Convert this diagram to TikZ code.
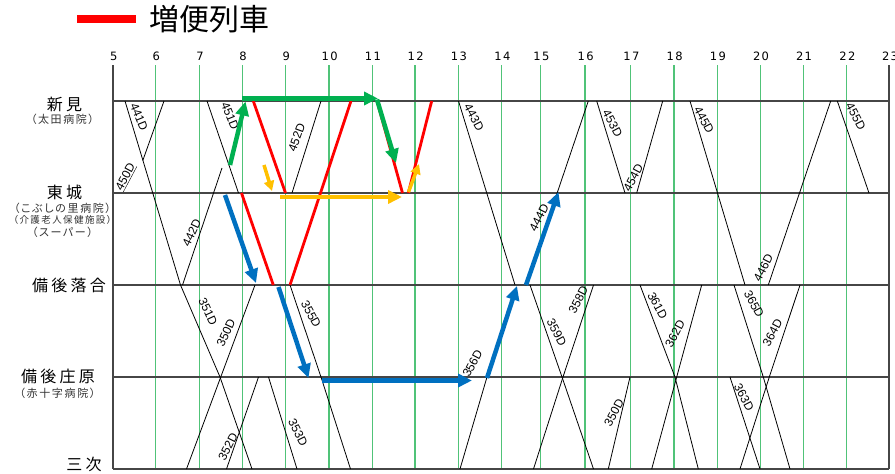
\documentclass[tikz,border=0pt]{standalone}
\usepackage{fontspec}
\usetikzlibrary{arrows.meta}
\newfontfamily\jpfont{Noto Sans CJK JP}
\newfontfamily\jpwide{Noto Sans CJK JP}[LetterSpace=20]
\newfontfamily\jpsub{Noto Sans CJK JP}[LetterSpace=15,RawFeature=+palt]
\newfontfamily\hourfont{DejaVu Sans}[LetterSpace=12]
\newfontfamily\numfont{Liberation Sans}
\definecolor{gridgreen}{RGB}{80,195,120}
\definecolor{arrgreen}{RGB}{0,176,80}
\definecolor{arrblue}{RGB}{0,112,192}
\definecolor{arryellow}{RGB}{255,192,0}
\definecolor{rowgray}{RGB}{70,70,70}
\tikzset{
  gridline/.style={draw=gridgreen, line width=1.3pt},
  frameline/.style={draw=rowgray, line width=1.3pt},
  rowline/.style={draw=rowgray, line width=1.2pt},
  train/.style={draw=black, line width=0.8pt},
  extratrain/.style={draw=red, line width=2.8pt},
  bigarrow/.style={line width=4.5pt, -{Triangle[length=14pt,width=13pt]}},
  smallarrow/.style={line width=3.5pt, -{Triangle[length=10pt,width=10pt]}},
  tlabel/.style={font=\numfont\fontsize{12}{12}\selectfont, inner sep=0pt},
  hourlabel/.style={font=\hourfont\fontsize{11.5}{11.5}\selectfont, inner sep=0pt},
  stn/.style={font=\jpwide\fontsize{16}{16}\selectfont, inner sep=0pt},
  stnsub/.style={font=\jpsub\fontsize{11}{11}\selectfont, inner sep=0pt, text=black!80},
}
\begin{document}
\begin{tikzpicture}[x=1pt,y=-1pt]
\useasboundingbox (0,0) rectangle (895,474);
\fill[white] (0,0) rectangle (895,474);

% legend
\coordinate (legA) at (77,19);
\coordinate (legB) at (136,19);
\draw[red, line width=8pt] (legA) -- (legB);
\node[font=\jpfont\fontsize{30}{30}\selectfont, inner sep=0pt] (legtext) at (209,19) {増便列車};

% hour grid
\foreach \h/\x in {6/155.7,7/199.3,8/242.3,9/285.5,10/329,11/372.3,12/415,13/458.3,14/501.7,15/540.7,16/585,17/630.7,18/674,19/717.3,20/760.3,21/803.3,22/846.7}{
  \draw[gridline] (\x,65) -- (\x,469);
}
\foreach \h/\x in {5/113,6/155.7,7/199.3,8/242.3,9/285.5,10/329,11/372.3,12/415,13/458.3,14/501.7,15/540.7,16/585,17/630.7,18/674,19/717.3,20/760.3,21/803.3,22/846.7,23/889.3}{
  \node[hourlabel] (h\h) at (\x+0.7,56) {\h};
}
\draw[frameline] (113,65) -- (113,469);
\draw[frameline, line width=2pt] (889.3,65) -- (889.3,469);

% station rows
\foreach \y in {101,193,285,377,469}{
  \draw[rowline] (113,\y) -- (889.3,\y);
}

% station labels
\node[stn] (niimi) at (64.5,104) {新見};
\node[stnsub] (niimi2) at (62.5,119.5) {（太田病院）};
\node[stn] (tojo) at (64.5,192) {東城};
\node[stnsub] (tojo2) at (62.5,208) {（こぶしの里病院）};
\node[stnsub, font=\jpsub\fontsize{9.5}{9.5}\selectfont] (tojo3) at (62.5,220) {（介護老人保健施設）};
\node[stnsub] (tojo4) at (62.5,232) {（スーパー）};
\node[stn] (ochiai) at (69,285) {備後落合};
\node[stn] (shobara) at (58,376) {備後庄原};
\node[stnsub] (shobara2) at (57.5,393) {（赤十字病院）};
\node[stn] (miyoshi) at (84,464) {三次};

% black trains
\draw[train] (125,101) -- (180.5,285) -- (220,377) -- (252,469); % 441D / 351D
\draw[train] (164,101) -- (142.8,160.5); % 450D
\draw[train] (182.5,285) -- (222,168); % 442D
\draw[train] (207,101) -- (238.5,193); % 451D
\draw[train] (292,193) -- (321,101); % 452D
\draw[train] (186.5,469) -- (255,285); % 350D
\draw[train] (226.5,469) -- (258.5,377); % 352D
\draw[train] (268.5,377) -- (297,469); % 353D
\draw[train] (290,285) -- (321,377) -- (350.5,469); % 355D
\draw[train] (458.5,101) -- (515,285); % 443D
\draw[train] (526,285) -- (588.3,101); % 444D
\draw[train] (460,469) -- (486.7,378); % 356D
\draw[train] (530,285) -- (562,377) -- (593.5,469); % 359D
\draw[train] (533.5,469) -- (563,377) -- (593.5,285); % 358D
\draw[train] (596.7,101) -- (625,193); % 453D
\draw[train] (636.7,193) -- (662.7,101); % 454D
\draw[train] (690,101) -- (745,285); % 445D
\draw[train] (768.3,285) -- (830.7,101); % 446D
\draw[train] (837.3,101) -- (869,193); % 455D
\draw[train] (608.3,469) -- (630,377); % 350D
\draw[train] (640,285) -- (675,377) -- (698.3,469); % 361D
\draw[train] (651.7,469) -- (676.7,377) -- (701.7,285); % 362D
\draw[train] (734,285) -- (763.3,377) -- (790,469); % 365D
\draw[train] (730,377) -- (760,469); % 363D
\draw[train] (740,469) -- (769.3,377) -- (800,285); % 364D

% train labels
\node[tlabel, rotate=-68] (l441) at (139,117) {441D};
\node[tlabel, rotate=62] (l450) at (126,177) {\underline{450D}};
\node[tlabel, rotate=-68] (l451) at (230,116) {451D};
\node[tlabel, rotate=70] (l452) at (296.7,137.5) {452D};
\node[tlabel, rotate=65] (l442) at (191.7,233) {442D};
\node[tlabel, rotate=-65] (l351) at (208,311.7) {351D};
\node[tlabel, rotate=65] (l350) at (226,332.5) {350D};
\node[tlabel, rotate=63] (l352) at (228,446.7) {352D};
\node[tlabel, rotate=-63] (l353) at (298,432.5) {353D};
\node[tlabel, rotate=-62] (l355) at (311,314) {355D};
\node[tlabel, rotate=-62] (l443) at (474,117.5) {443D};
\node[tlabel, rotate=63] (l444) at (539,217.5) {444D};
\node[tlabel, rotate=62] (l356) at (472.5,363.3) {356D};
\node[tlabel, rotate=63] (l358) at (578.3,300) {358D};
\node[tlabel, rotate=-62] (l359) at (556.7,332.5) {359D};
\node[tlabel, rotate=-62] (l453) at (612.5,123.3) {453D};
\node[tlabel, rotate=62] (l454) at (633.3,177.5) {454D};
\node[tlabel, rotate=-62] (l445) at (704,120) {445D};
\node[tlabel, rotate=63] (l446) at (763.3,267.5) {446D};
\node[tlabel, rotate=-62] (l455) at (855.8,116.7) {455D};
\node[tlabel, rotate=-62] (l361) at (657.5,305.8) {361D};
\node[tlabel, rotate=62] (l362) at (675,334) {362D};
\node[tlabel, rotate=62] (l350b) at (614,413) {350D};
\node[tlabel, rotate=-62] (l365) at (754,304) {365D};
\node[tlabel, rotate=62] (l364) at (772.5,332.5) {364D};
\node[tlabel, rotate=-62] (l363) at (744,397.5) {363D};

% extra (red) trains
\draw[extratrain] (253.3,101) -- (285.5,193);
\draw[extratrain] (241.5,193) -- (273.3,285);
\draw[extratrain] (290,285) -- (351,101);
\draw[extratrain] (377,101) -- (402.5,193);
\draw[extratrain] (408.3,193) -- (431.7,101);

% green arrows
\draw[bigarrow, arrgreen] (230,165) -- (245.5,101.5);
\draw[bigarrow, arrgreen] (242,98.5) -- (378,98.5);
\draw[bigarrow, arrgreen] (377,99.5) -- (396,163);

% yellow arrows
\draw[smallarrow, arryellow] (264,165) -- (272,191);
\draw[bigarrow, arryellow, line width=4pt] (280,197) -- (402,197);
\draw[smallarrow, arryellow] (408.5,192) -- (419,164);

% blue arrows
\draw[bigarrow, arrblue] (225,195) -- (256,283);
\draw[bigarrow, arrblue] (278.5,287) -- (308.5,378);
\draw[bigarrow, arrblue] (322,380.5) -- (472,380.5);
\draw[bigarrow, arrblue] (487,378) -- (517,286);
\draw[bigarrow, arrblue] (526,285) -- (558.5,192);
\end{tikzpicture}
\end{document}
